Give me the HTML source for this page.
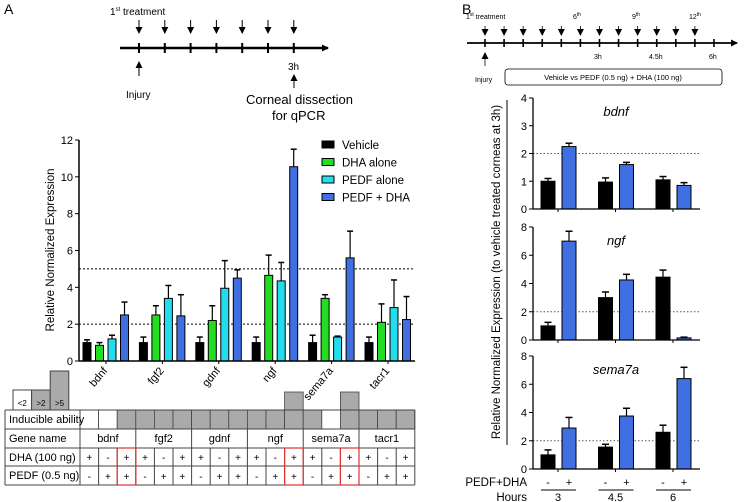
<!DOCTYPE html>
<html><head><meta charset="utf-8">
<style>
body{margin:0;background:#fff;}
svg{display:block;font-family:"Liberation Sans",Arial,sans-serif;}
</style></head>
<body>
<svg id="fig" width="745" height="502" viewBox="0 0 745 502" xmlns="http://www.w3.org/2000/svg">
<defs>
<marker id="ah" markerWidth="7" markerHeight="7" refX="6" refY="3.5" orient="auto" markerUnits="userSpaceOnUse"><path d="M0,0 L7,3.5 L0,7 z" fill="#000"/></marker>
</defs>
<text x="4" y="14" font-size="14">A</text>
<text x="462" y="14" font-size="14">B</text>
<g id="tlA">
<text x="110" y="15" font-size="10">1<tspan font-size="6" dy="-4">st</tspan><tspan dy="4"> treatment</tspan></text>
<line x1="120" y1="48" x2="328" y2="48" stroke="#000" stroke-width="2.5" marker-end="url(#ah)"/>
<line x1="139" y1="76" x2="139" y2="62" stroke="#000" stroke-width="1" marker-end="url(#ah)"/>
<text x="126" y="98" font-size="10">Injury</text>
<text x="288" y="70" font-size="10">3h</text>
<line x1="294" y1="88" x2="294" y2="75" stroke="#000" stroke-width="1" marker-end="url(#ah)"/>
<text x="246" y="104" font-size="13">Corneal dissection</text>
<text x="272" y="120" font-size="13">for qPCR</text>
</g>
<g id="tlB">
<text x="466" y="19" font-size="7">1<tspan font-size="5" dy="-3">st</tspan><tspan dy="3"> treatment</tspan></text>
<text x="573" y="19" font-size="7">6<tspan font-size="5" dy="-3">th</tspan></text>
<text x="632" y="19" font-size="7">9<tspan font-size="5" dy="-3">th</tspan></text>
<text x="689" y="19" font-size="7">12<tspan font-size="5" dy="-3">th</tspan></text>
<line x1="467" y1="43" x2="737" y2="43" stroke="#000" stroke-width="1.8" marker-end="url(#ah)"/>
<text x="594" y="59" font-size="7">3h</text>
<text x="649" y="59" font-size="7">4.5h</text>
<text x="709" y="59" font-size="7">6h</text>
<line x1="485" y1="66" x2="485" y2="53" stroke="#000" stroke-width="0.8" marker-end="url(#ah)"/>
<text x="475" y="82" font-size="7">Injury</text>
<rect x="505" y="69" width="217" height="16" rx="3" fill="none" stroke="#000" stroke-width="0.8"/>
<text x="613" y="80" font-size="7.5" text-anchor="middle">Vehicle vs PEDF (0.5 ng) + DHA (100 ng)</text>
</g>
<g id="chartA"></g>
<g id="tableA"></g>
<g id="chartB"></g>
</svg>
<script>
// ---------- Panel A data ----------
const genesA = ["bdnf","fgf2","gdnf","ngf","sema7a","tacr1"];
const seriesNamesA = ["Vehicle","DHA alone","PEDF alone","PEDF + DHA"];
const vehicleA = [1.0,1.0,1.0,1.0,1.0,1.0];
const dhaA = [0.85,2.5,2.2,4.65,3.4,2.1];
const pedfA = [1.2,3.4,3.95,4.35,1.3,2.9];
const comboA = [2.5,2.45,4.5,10.55,5.6,2.25];
const vehicleErrA = [0.15,0.3,0.3,0.3,0.4,0.3];
const dhaErrA = [0.15,0.5,0.8,1.1,0.2,1.0];
const pedfErrA = [0.2,0.7,1.5,1.0,0.05,1.5];
const comboErrA = [0.7,1.15,0.45,0.95,1.45,1.25];
const ticksA = [0,2,4,6,8,10,12];
const refLinesA = [2,5];
// ---------- Panel B data ----------
const hoursB = ["3","4.5","6"];
const panelGenesB = ["bdnf","ngf","sema7a"];
const panelMaxB = [4,8,8];
const panelTicksB = [[0,1,2,3,4],[0,2,4,6,8],[0,2,4,6,8]];
const vehicleB = [[1.0,0.97,1.05],[1.0,3.0,4.45],[1.0,1.55,2.6]];
const comboB = [[2.25,1.6,0.85],[7.0,4.25,0.15],[2.9,3.75,6.4]];
const vehicleErrB = [[0.1,0.15,0.12],[0.25,0.4,0.5],[0.35,0.2,0.5]];
const comboErrB = [[0.12,0.08,0.1],[0.7,0.4,0.05],[0.75,0.55,0.8]];
const refLineB = 2;
// ---------- Table data ----------
const inducible = [0,0,1, 1,1,1, 1,1,1, 1,1,2, 1,0,2, 1,1,1];
const dhaRow = ["+","-","+"];
const pedfRow = ["-","+","+"];
const highlightCols = [2,11,14];

const NS="http://www.w3.org/2000/svg";
function mk(tag,attrs,parent,txt){const e=document.createElementNS(NS,tag);for(const k in attrs)e.setAttribute(k,attrs[k]);if(txt!==undefined)e.textContent=txt;parent.appendChild(e);return e;}

// ---------- Chart A ----------
(function(){
const g=document.getElementById('chartA');
const x0=79,x1=415,y0=361,yTop=140,ymax=12;
const yA=v=>y0-(v/ymax)*(y0-yTop);
const gx=i=>106+i*56.4;
const colors=["#000000","#22dd22","#22dded","#3f6fe0"];
const vals=[vehicleA,dhaA,pedfA,comboA];
const errs=[vehicleErrA,dhaErrA,pedfErrA,comboErrA];
const offs=[-19,-6.5,6,18.5];
refLinesA.forEach(r=>{const l=mk('line',{x1:x0,x2:x1,y1:yA(r),y2:yA(r),stroke:'#000','stroke-dasharray':'2,2','stroke-width':1},g);

});
genesA.forEach((gn,i)=>{
 vals.forEach((arr,s)=>{
  const cx=gx(i)+offs[s],v=arr[i],e=errs[s][i];
  const el=mk('line',{x1:cx,x2:cx,y1:yA(v),y2:yA(v+e),stroke:'#000','stroke-width':1.2},g);
  
  
  mk('line',{x1:cx-3,x2:cx+3,y1:yA(v+e),y2:yA(v+e),stroke:'#000','stroke-width':1.5},g);
  const b=mk('rect',{x:cx-4,y:yA(v),width:8,height:y0-yA(v),fill:colors[s],stroke:'#000','stroke-width':1},g);
  
  
 });
 mk('line',{x1:gx(i),x2:gx(i),y1:y0,y2:y0+3,stroke:'#000'},g);
 const t=mk('text',{x:gx(i)+2,y:y0+10,'font-size':11,'text-anchor':'end',transform:`rotate(-50 ${gx(i)+2} ${y0+10})`},g,gn);
 
 
});
mk('line',{x1:x0,x2:x0,y1:yTop,y2:y0,stroke:'#000','stroke-width':1.5},g);
mk('line',{x1:x0,x2:x1,y1:y0,y2:y0,stroke:'#000','stroke-width':1.5},g);
ticksA.forEach(t=>{mk('line',{x1:x0-4,x2:x0,y1:yA(t),y2:yA(t),stroke:'#000'},g);
 const tl=mk('text',{x:x0-6,y:yA(t)+4,'font-size':11,'text-anchor':'end'},g,t);
 
 });
const yt=mk('text',{x:54,y:250,'font-size':11.5,'text-anchor':'middle',transform:'rotate(-90 54 250)'},g,'Relative Normalized Expression');


seriesNamesA.forEach((n,s)=>{const yy=145+s*17.5;
 mk('rect',{x:322,y:yy-4,width:12,height:7,fill:colors[s],stroke:'#000'},g);
 const lt=mk('text',{x:342,y:yy+4,'font-size':11.5},g,n);
 
 });
})();

// ---------- Table ----------
(function(){
const g=document.getElementById('tableA');
const left=5,c0=80,cw=18.6,rows=[410,429,448,466,485];
const cx=i=>c0+i*cw, right=c0+18*cw;
[[13,390,'#fff','<2'],[31.6,390,'#aaa','>2'],[50.2,371,'#aaa','>5']].forEach(([x,y,f,t],k)=>{
 mk('rect',{x:x,y:y,width:18.6,height:410-y,fill:f,stroke:'#444'},g);
 const tt=mk('text',{x:x+9.3,y:406,'font-size':8,'text-anchor':'middle'},g,t);
 
 });
inducible.forEach((v,i)=>{
 const top=v===2?392:410;
 mk('rect',{x:cx(i),y:top,width:cw,height:429-top,fill:v?'#aaa':'#fff',stroke:'#444','stroke-width':0.8},g);
});
rows.forEach(r=>mk('line',{x1:left,x2:right,y1:r,y2:r,stroke:'#444'},g));
mk('line',{x1:left,x2:left,y1:410,y2:485,stroke:'#444'},g);
mk('line',{x1:right,x2:right,y1:410,y2:485,stroke:'#444'},g);
mk('line',{x1:c0,x2:c0,y1:410,y2:485,stroke:'#444'},g);
const labs=['Inducible ability','Gene name','DHA (100 ng)','PEDF (0.5 ng)'];
labs.forEach((l,k)=>{const t=mk('text',{x:9,y:rows[k]+13,'font-size':11},g,l);
 
 });
genesA.forEach((gn,j)=>{
 mk('line',{x1:cx(j*3),x2:cx(j*3),y1:429,y2:485,stroke:'#444'},g);
 const t=mk('text',{x:cx(j*3)+cw*1.5,y:442,'font-size':11,'text-anchor':'middle'},g,gn);
 
 
 for(let k=0;k<3;k++){const i=j*3+k;
  if(k>0)mk('line',{x1:cx(i),x2:cx(i),y1:448,y2:485,stroke:'#444'},g);
  mk('text',{x:cx(i)+cw/2,y:461,'font-size':10,'text-anchor':'middle'},g,dhaRow[k]);
  mk('text',{x:cx(i)+cw/2,y:480,'font-size':10,'text-anchor':'middle'},g,pedfRow[k]);
 }
});
highlightCols.forEach(i=>{const r=mk('rect',{x:cx(i),y:448,width:cw,height:37,fill:'none',stroke:'#e03030','stroke-width':1.2},g);
 
 });
})();

// ---------- Chart B ----------
(function(){
const g=document.getElementById('chartB');
const x0=533,x1=700;
const panels=[{top:98,bot:209},{top:227,bot:340},{top:356,bot:469}];
const gx=i=>558+i*57.5;
const offs=[-10,11];
panels.forEach((p,k)=>{
 const yB=v=>p.bot-(v/panelMaxB[k])*(p.bot-p.top);
 const rl=mk('line',{x1:x0,x2:x1,y1:yB(refLineB),y2:yB(refLineB),stroke:'#555','stroke-dasharray':'1.5,2','stroke-width':1},g);
 
 
 const tt=mk('text',{x:616,y:p.top+18,'font-size':13,'font-style':'italic','text-anchor':'middle'},g,panelGenesB[k]);
 
 
 hoursB.forEach((h,i)=>{
  [[vehicleB,vehicleErrB,'#000'],[comboB,comboErrB,'#3f6fe0']].forEach(([arr,err,c],s)=>{
   const cx=gx(i)+offs[s],v=arr[k][i],e=err[k][i];
   mk('line',{x1:cx,x2:cx,y1:yB(v),y2:yB(v+e),stroke:'#000','stroke-width':1.2},g);
   mk('line',{x1:cx-3.5,x2:cx+3.5,y1:yB(v+e),y2:yB(v+e),stroke:'#000','stroke-width':1.5},g);
   const b=mk('rect',{x:cx-7,y:yB(v),width:14,height:p.bot-yB(v),fill:c,stroke:'#000','stroke-width':1},g);
   
   
  });
  mk('line',{x1:gx(i),x2:gx(i),y1:p.bot,y2:p.bot+3,stroke:'#000'},g);
 });
 mk('line',{x1:x0,x2:x0,y1:p.top,y2:p.bot,stroke:'#000','stroke-width':1.3},g);
 mk('line',{x1:x0,x2:x1,y1:p.bot,y2:p.bot,stroke:'#000','stroke-width':1.3},g);
 panelTicksB[k].forEach(t=>{mk('line',{x1:x0-4,x2:x0,y1:yB(t),y2:yB(t),stroke:'#000'},g);
  const tl=mk('text',{x:x0-6,y:yB(t)+4,'font-size':11,'text-anchor':'end'},g,t);
  
  });
});
mk('line',{x1:507,x2:507,y1:100,y2:445,stroke:'#000','stroke-width':1},g);
const yt=mk('text',{x:500,y:272,'font-size':11.5,'text-anchor':'middle',transform:'rotate(-90 500 272)'},g,'Relative Normalized Expression (to vehicle treated corneas at 3h)');


const pl=mk('text',{x:527,y:486,'font-size':11.5,'text-anchor':'end'},g,'PEDF+DHA');


const hl=mk('text',{x:527,y:501,'font-size':11.5,'text-anchor':'end'},g,'Hours');


hoursB.forEach((h,i)=>{
 mk('text',{x:gx(i)-10,y:486,'font-size':11,'text-anchor':'middle'},g,'-');
 mk('text',{x:gx(i)+11,y:486,'font-size':11,'text-anchor':'middle'},g,'+');
 mk('line',{x1:gx(i)-17,x2:gx(i)+18,y1:490,y2:490,stroke:'#000'},g);
 const t=mk('text',{x:gx(i),y:501,'font-size':11,'text-anchor':'middle'},g,h);
 
 
});
})();

// ---------- Timeline ticks ----------
(function(){
const a=document.getElementById('tlA');
for(let i=0;i<7;i++){const x=139+i*25.8;
 mk('line',{x1:x,x2:x,y1:43,y2:53,stroke:'#000','stroke-width':2},a);
 mk('line',{x1:x,x2:x,y1:20,y2:33,stroke:'#000','stroke-width':1,'marker-end':'url(#ah)'},a);}
const b=document.getElementById('tlB');
for(let i=0;i<13;i++){const x=485+i*19.08;
 mk('line',{x1:x,x2:x,y1:39,y2:47,stroke:'#000','stroke-width':1.6},b);
 if(i<12)mk('line',{x1:x,x2:x,y1:26,y2:35,stroke:'#000','stroke-width':0.8,'marker-end':'url(#ah)'},b);}
})();
</script>
</body></html>
